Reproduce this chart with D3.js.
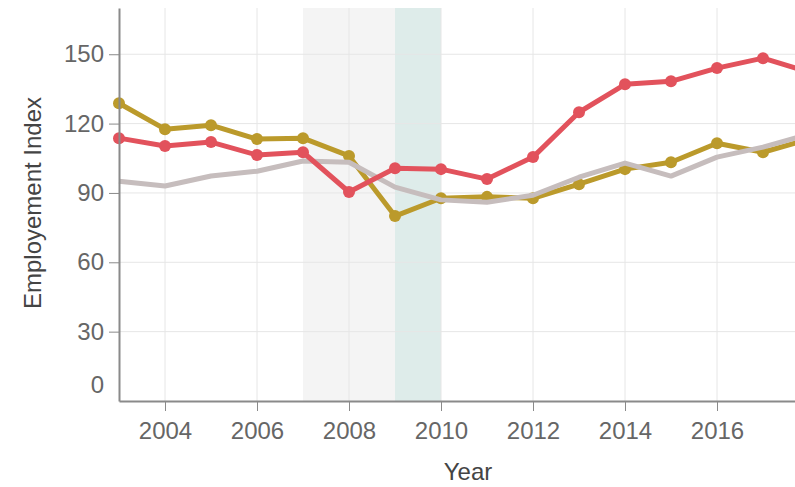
<!DOCTYPE html>
<html><head><meta charset="utf-8">
<script src="https://cdn.jsdelivr.net/npm/d3@7"></script>
<style>body{margin:0;background:#fff}svg{display:block;font-family:"Liberation Sans",Arial,sans-serif}</style>
</head><body><svg id="c" width="795" height="487"></svg>
<script>
const years = [2003,2004,2005,2006,2007,2008,2009,2010,2011,2012,2013,2014,2015,2016,2017,2018];
const redSeries  = [113.7,110.3,112,106.4,107.6,90.4,100.7,100.3,96,105.5,124.9,137,138.3,144,148.3,142.2];
const goldSeries = [128.8,117.6,119.3,113.3,113.7,106,80,87.7,88.3,87.7,93.8,100.3,103.3,111.5,107.6,113.3];
const graySeries = [95.1,93,97.3,99.4,103.8,103.3,92.5,87,86,89,96.8,102.9,97.3,105.5,109.8,115.4];
const xTicks = [2004,2006,2008,2010,2012,2014,2016];
const yTicks = [0,30,60,90,120,150];
const bands = [{from:2007,to:2009,color:"#f4f4f4"},{from:2009,to:2010,color:"#deecea"}];

const svg = d3.select("#c");
const x = d3.scaleLinear().domain([2003,2018]).range([119,809]);
const y = d3.scaleLinear().domain([0,170]).range([401,8]);

svg.selectAll("rect.band").data(bands).join("rect")
  .attr("x",d=>x(d.from)).attr("width",d=>x(d.to)-x(d.from))
  .attr("y",y(170)).attr("height",y(0)-y(170)).attr("fill",d=>d.color);

// grid
svg.append("g").selectAll("line").data(xTicks).join("line")
  .attr("x1",d=>x(d)).attr("x2",d=>x(d)).attr("y1",y(170)).attr("y2",y(0))
  .attr("stroke","#e6e6e6").attr("stroke-width",1);
svg.append("g").selectAll("line").data(yTicks.filter(v=>v>0)).join("line")
  .attr("x1",119).attr("x2",809).attr("y1",d=>y(d)).attr("y2",d=>y(d))
  .attr("stroke","#e6e6e6").attr("stroke-width",1);

const series = [
  {vals:goldSeries,color:"#bb9a2b",dots:true},
  {vals:graySeries,color:"#c6bdbd",dots:false},
  {vals:redSeries,color:"#e2525c",dots:true}
];
series.forEach(s=>{
  const line = d3.line().x((d,i)=>x(years[i])).y(d=>y(d));
  svg.append("path").datum(s.vals).attr("d",line).attr("fill","none")
    .attr("stroke",s.color).attr("stroke-width",5).attr("stroke-linejoin","round");
  if(s.dots){
    svg.append("g").selectAll("circle").data(s.vals).join("circle")
      .attr("cx",(d,i)=>x(years[i])).attr("cy",d=>y(d)).attr("r",6).attr("fill",s.color);
  }
});

// axes
const xAxis = svg.append("g").attr("transform",`translate(0,${y(0)})`)
  .call(d3.axisBottom(x).tickValues(xTicks).tickFormat(d3.format("d")).tickSize(10).tickSizeOuter(0));
xAxis.select(".domain").attr("stroke","#8a8a8a").attr("stroke-width",2);
xAxis.selectAll(".tick line").attr("stroke","#8a8a8a");
xAxis.selectAll("text").attr("fill","#666").attr("font-size",24).attr("dy","1.05em");

const yAxis = svg.append("g").attr("transform",`translate(119,0)`)
  .call(d3.axisLeft(y).tickValues(yTicks).tickSize(10).tickSizeOuter(0));
yAxis.select(".domain").attr("stroke","#8a8a8a").attr("stroke-width",2);
yAxis.selectAll(".tick line").attr("stroke","#8a8a8a");
yAxis.selectAll(".tick").filter(d=>d===0).select("line").remove();
yAxis.selectAll("text").attr("fill","#666").attr("font-size",24).attr("x",-15);
yAxis.selectAll(".tick").filter(d=>d===0).select("text").attr("y",-16);

svg.append("text").attr("x",468).attr("y",480).attr("text-anchor","middle")
  .attr("font-size",24).attr("fill","#444").text("Year");
svg.append("text").attr("transform","translate(41,203) rotate(-90)").attr("text-anchor","middle")
  .attr("font-size",24).attr("fill","#444").text("Employement Index");
</script></body></html>
